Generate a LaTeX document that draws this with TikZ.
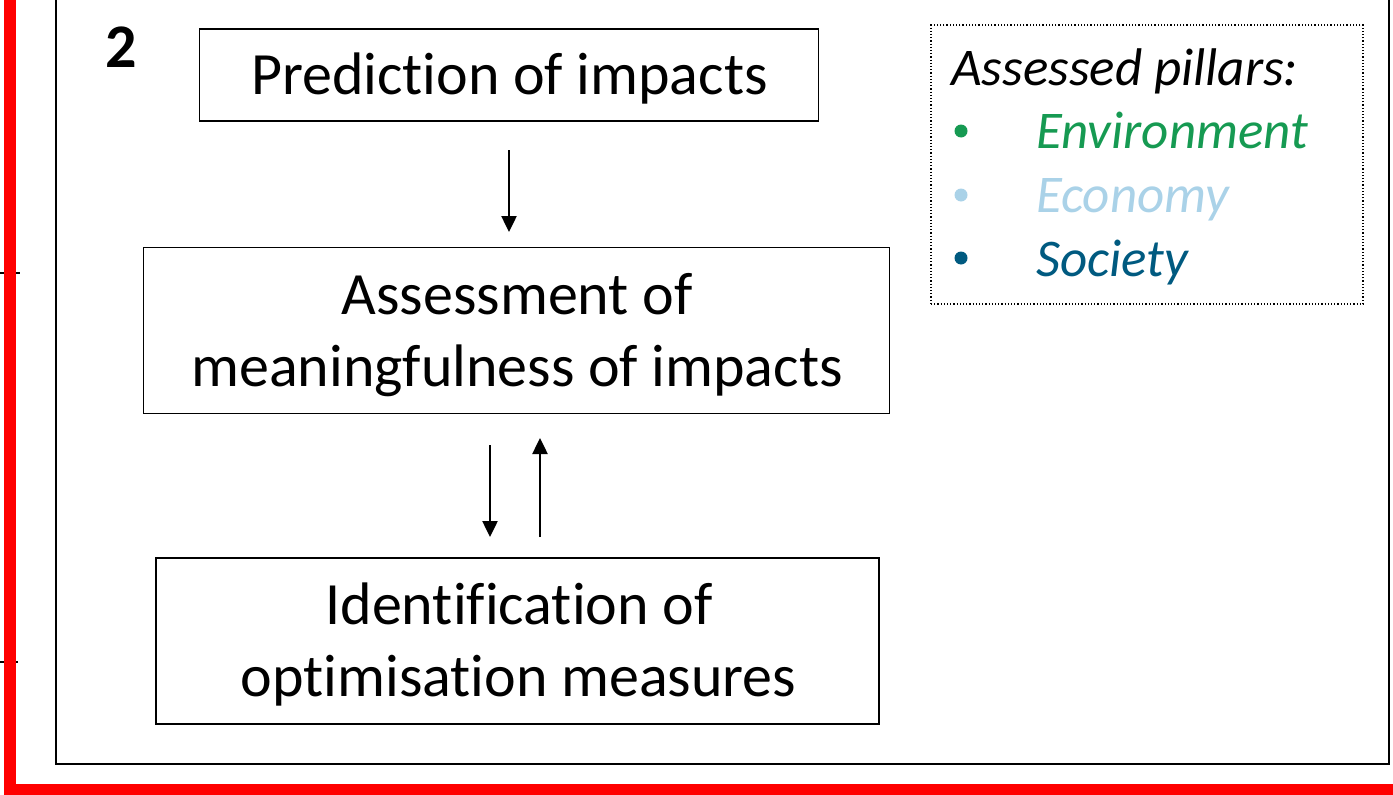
\documentclass[tikz,border=0pt]{standalone}
\usepackage{fontspec}
\setmainfont{Carlito}[Ligatures={NoCommon,NoRare,NoContextual}]
\usetikzlibrary{arrows.meta}
\definecolor{envgreen}{RGB}{22,154,82}
\definecolor{ecoblue}{RGB}{170,210,232}
\definecolor{socblue}{RGB}{0,90,128}
\definecolor{framered}{RGB}{255,0,0}
\tikzset{
  stepbox/.style={draw=black, line width=1.6pt, inner sep=0pt},
  boxtext/.style={anchor=base, inner sep=0pt, font=\fontsize{60}{72}\selectfont},
  legtext/.style={anchor=base west, inner sep=0pt, font=\fontsize{53}{63}\selectfont\itshape},
  flowarrow/.style={line width=2.5pt, -{Triangle[length=16pt,width=15pt]}},
}
\begin{document}
\begin{tikzpicture}[x=1pt,y=-1pt]
\useasboundingbox (0,0) rectangle (1393,795);
% tick marks
\draw[line width=1.8pt] (0,273) -- (20,273);
\draw[line width=1.8pt] (0,662) -- (18,662);
% red frame
\fill[framered] (4,0) rectangle (16,795);
\fill[framered] (4,784) rectangle (1393,796);
% outer black frame
\draw[line width=2.6pt] (56,-5) -- (56,764) -- (1389,764) -- (1389,-5);
% number
\node[anchor=base, inner sep=0pt, font=\fontsize{62}{72}\selectfont\bfseries] (num) at (121,67) {2};
% boxes
\node[stepbox, minimum width=619pt, minimum height=92pt] (b1) at (509,75) {};
\node[stepbox, minimum width=746pt, minimum height=166pt] (b2) at (516.3,330.3) {};
\node[stepbox, minimum width=723pt, minimum height=166pt] (b3) at (517.5,641.2) {};
% texts
\node[boxtext] (t1) at (509.5,94) {Prediction of impacts};
\node[boxtext] (t2a) at (517,314) {Assessment of};
\node[boxtext] (t2b) at (517,386.5) {meaningfulness of impacts};
\node[boxtext] (t3a) at (519,624) {Identification of};
\node[boxtext] (t3b) at (518.5,696.5) {optimisation measures};
% arrows
\coordinate (a1s) at (509,150);
\coordinate (a1e) at (509,232);
\draw[flowarrow] (a1s) -- (a1e);
\coordinate (a2s) at (490,445);
\coordinate (a2e) at (490,537);
\draw[flowarrow] (a2s) -- (a2e);
\coordinate (a3s) at (540,537);
\coordinate (a3e) at (540,438);
\draw[flowarrow] (a3s) -- (a3e);
% legend
\node[draw=black, line width=1.2pt, dotted, minimum width=432pt, minimum height=279pt, inner sep=0pt] (leg) at (1147,164.5) {};
\node[legtext] (lt) at (951,85) {Assessed pillars:};
\node[legtext, text=envgreen] (l1) at (1036,148) {Environment};
\node[legtext, text=ecoblue] (l2) at (1036,212) {Economy};
\node[legtext, text=socblue] (l3) at (1036,276) {Society};
\fill[envgreen] (961,131) circle (6.5pt);
\fill[ecoblue] (961,195) circle (6.5pt);
\fill[socblue] (961,258) circle (6.5pt);
\end{tikzpicture}
\end{document}
